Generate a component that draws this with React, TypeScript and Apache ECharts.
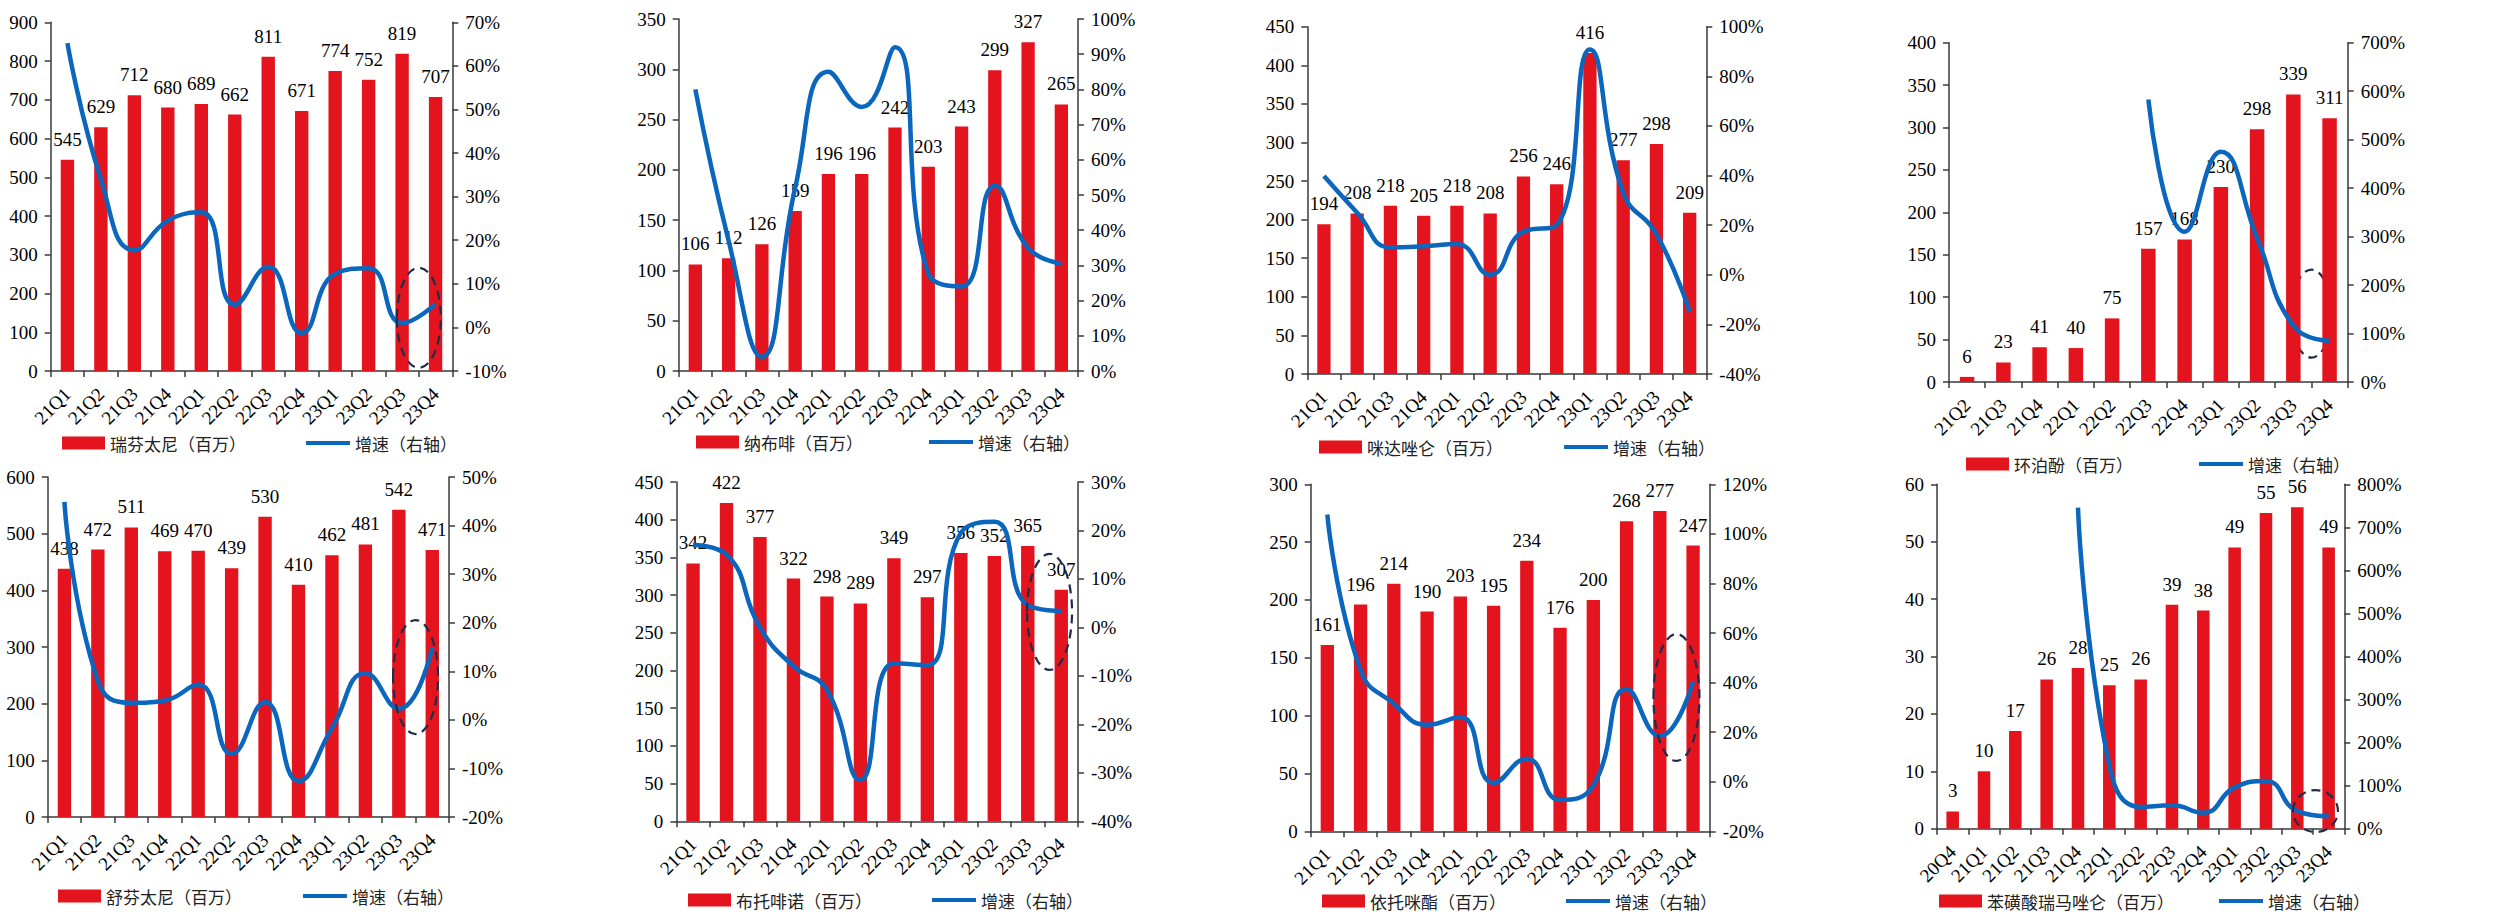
import React, { useEffect, useRef } from "react";
import * as echarts from "echarts";

// ---- quarter labels ----
const Q21Q1_23Q4 = ["21Q1", "21Q2", "21Q3", "21Q4", "22Q1", "22Q2", "22Q3", "22Q4", "23Q1", "23Q2", "23Q3", "23Q4"];
const Q21Q2_23Q4 = ["21Q2", "21Q3", "21Q4", "22Q1", "22Q2", "22Q3", "22Q4", "23Q1", "23Q2", "23Q3", "23Q4"];
const Q20Q4_23Q4 = ["20Q4", "21Q1", "21Q2", "21Q3", "21Q4", "22Q1", "22Q2", "22Q3", "22Q4", "23Q1", "23Q2", "23Q3", "23Q4"];

const GROWTH_NAME = "增速（右轴）";

// ---- 瑞芬太尼 ----
const remifentanilName = "瑞芬太尼（百万）";
const remifentanilSales = [545, 629, 712, 680, 689, 662, 811, 671, 774, 752, 819, 707];
const remifentanilGrowth = [65.2, 34, 17.7, 24.5, 26.4, 5.2, 13.9, -1.3, 12.3, 13.6, 1.0, 5.4];

// ---- 纳布啡 ----
const nalbuphineName = "纳布啡（百万）";
const nalbuphineSales = [106, 112, 126, 159, 196, 196, 242, 203, 243, 299, 327, 265];
const nalbuphineGrowth = [80, 37, 4, 52, 85, 75, 92, 27.7, 24, 52.6, 35, 30.5];

// ---- 咪达唑仑 ----
const midazolamName = "咪达唑仑（百万）";
const midazolamSales = [194, 208, 218, 205, 218, 208, 256, 246, 416, 277, 298, 209];
const midazolamGrowth = [39.8, 25, 11, 11.5, 12.4, 0, 17.4, 20, 90.8, 33.2, 16.4, -15];

// ---- 环泊酚 ----
const ciprofolName = "环泊酚（百万）";
const ciprofolSales = [6, 23, 41, 40, 75, 157, 168, 230, 298, 339, 311];
const ciprofolGrowth = [null, null, null, null, null, 583, 310, 475, 297, 116, 85];

// ---- 舒芬太尼 ----
const sufentanilName = "舒芬太尼（百万）";
const sufentanilSales = [438, 472, 511, 469, 470, 439, 530, 410, 462, 481, 542, 471];
const sufentanilGrowth = [44.9, 8, 3.5, 4, 7.3, -7.0, 3.7, -12.6, -1.7, 9.6, 2.3, 14.9];

// ---- 布托啡诺 ----
const butorphanolName = "布托啡诺（百万）";
const butorphanolSales = [342, 422, 377, 322, 298, 289, 349, 297, 356, 352, 365, 307];
const butorphanolGrowth = [17, 15, 0, -8, -12.9, -31.5, -7.4, -7.8, 19.5, 21.8, 4.6, 3.4];

// ---- 依托咪酯 ----
const etomidateName = "依托咪酯（百万）";
const etomidateSales = [161, 196, 214, 190, 203, 195, 234, 176, 200, 268, 277, 247];
const etomidateGrowth = [107.8, 45, 31.5, 23, 26.1, -0.5, 9.3, -7.4, -1.5, 37.4, 18.4, 40.3];

// ---- 苯磺酸瑞马唑仑 ----
const remimazolamName = "苯磺酸瑞马唑仑（百万）";
const remimazolamSales = [3, 10, 17, 26, 28, 25, 26, 39, 38, 49, 55, 56, 49];
const remimazolamGrowth = [null, null, null, null, 746, 147, 50.6, 54.5, 37, 96, 111, 41, 29];

// ---- left / right axis scales: [min, max, step] ----
const leftScales = [
  [0, 900, 100], [0, 350, 50], [0, 450, 50], [0, 400, 50],
  [0, 600, 100], [0, 450, 50], [0, 300, 50], [0, 60, 10],
];
const rightScales = [
  [-10, 70, 10], [0, 100, 10], [-40, 100, 20], [0, 700, 100],
  [-20, 50, 10], [-40, 30, 10], [-20, 120, 20], [0, 800, 100],
];

const RED = "#E3141D";
const BLUE = "#0B66BE";
const AXIS = "#3a3a3a";
const SERIF = '"Times New Roman", "Liberation Serif", serif';
const CJK = '"Noto Sans CJK SC", "Noto Sans", sans-serif';

type Panel = {
  name: string;
  cats: string[];
  sales: number[];
  growth: (number | null)[];
  grid: [number, number, number, number]; // left, top, width, height
  legend: [number, number, number]; // bar item left, line item left, centre y
  ring?: { slot: number; value: number; rx: number; ry: number; behind?: boolean };
};

const panels: Panel[] = [
  { name: remifentanilName, cats: Q21Q1_23Q4, sales: remifentanilSales, growth: remifentanilGrowth,
    grid: [50.7, 22.3, 401.6, 348.7], legend: [62, 306, 443],
    ring: { slot: 11.0, value: 2.2, rx: 22, ry: 50 } },
  { name: nalbuphineName, cats: Q21Q1_23Q4, sales: nalbuphineSales, growth: nalbuphineGrowth,
    grid: [678.7, 19, 399.3, 352], legend: [696, 929, 442] },
  { name: midazolamName, cats: Q21Q1_23Q4, sales: midazolamSales, growth: midazolamGrowth,
    grid: [1307.3, 26.7, 399, 347.3], legend: [1319, 1564, 447] },
  { name: ciprofolName, cats: Q21Q2_23Q4, sales: ciprofolSales, growth: ciprofolGrowth,
    grid: [1949, 42.7, 398.7, 339.3], legend: [1966, 2199, 464],
    ring: { slot: 10.0, value: 141, rx: 20, ry: 44, behind: true } },
  { name: sufentanilName, cats: Q21Q1_23Q4, sales: sufentanilSales, growth: sufentanilGrowth,
    grid: [47.7, 477, 401.3, 340], legend: [58, 303, 896],
    ring: { slot: 11.0, value: 8.8, rx: 22.5, ry: 57 } },
  { name: butorphanolName, cats: Q21Q1_23Q4, sales: butorphanolSales, growth: butorphanolGrowth,
    grid: [676.3, 482, 401.7, 339.3], legend: [688, 932, 900],
    ring: { slot: 11.15, value: 3.2, rx: 22.5, ry: 58 } },
  { name: etomidateName, cats: Q21Q1_23Q4, sales: etomidateSales, growth: etomidateGrowth,
    grid: [1310.7, 484.3, 399, 347], legend: [1322, 1566, 901],
    ring: { slot: 11.0, value: 34, rx: 23, ry: 63.5 } },
  { name: remimazolamName, cats: Q20Q4_23Q4, sales: remimazolamSales, growth: remimazolamGrowth,
    grid: [1937, 484.3, 407.3, 344.4], legend: [1939, 2219, 901],
    ring: { slot: 12.08, value: 41, rx: 22.5, ry: 21 } },
];

function buildOption() {
  const grid: any[] = [];
  const xAxis: any[] = [];
  const yAxis: any[] = [];
  const series: any[] = [];
  const legend: any[] = [];

  const axisLine = { show: true, lineStyle: { color: AXIS, width: 1.5 } };
  const axisTick = { show: true, length: 6, lineStyle: { color: AXIS, width: 1.5 } };
  const numLabel = { fontFamily: SERIF, fontSize: 19, color: "#000" };

  panels.forEach((p, i) => {
    const [l, t, w, h] = p.grid;
    grid.push({ left: l, top: t, width: w, height: h, containLabel: false });
    xAxis.push({
      type: "category",
      gridIndex: i,
      data: p.cats,
      boundaryGap: true,
      axisLine,
      axisTick: { ...axisTick, alignWithLabel: false, interval: 0 },
      axisLabel: { ...numLabel, rotate: 45, interval: 0, margin: 20 },
      splitLine: { show: false },
    });
    const [lmin, lmax, lstep] = leftScales[i];
    const [rmin, rmax, rstep] = rightScales[i];
    yAxis.push({
      type: "value",
      gridIndex: i,
      position: "left",
      min: lmin,
      max: lmax,
      interval: lstep,
      axisLine,
      axisTick,
      axisLabel: { ...numLabel, margin: 13 },
      splitLine: { show: false },
    });
    yAxis.push({
      type: "value",
      gridIndex: i,
      position: "right",
      min: rmin,
      max: rmax,
      interval: rstep,
      axisLine,
      axisTick,
      axisLabel: { ...numLabel, margin: 13, formatter: "{value}%" },
      splitLine: { show: false },
    });
    series.push({
      type: "bar",
      name: p.name,
      xAxisIndex: i,
      yAxisIndex: 2 * i,
      data: p.sales,
      barWidth: "40%",
      itemStyle: { color: RED },
      label: {
        show: true,
        position: "top",
        distance: 11,
        fontFamily: SERIF,
        fontSize: 19,
        color: "#000",
      },
      z: 2,
    });
    series.push({
      type: "line",
      name: GROWTH_NAME,
      xAxisIndex: i,
      yAxisIndex: 2 * i + 1,
      data: p.growth,
      smooth: 0.5,
      symbol: "none",
      lineStyle: { color: BLUE, width: 4.5 },
      itemStyle: { color: BLUE },
      z: 4,
    });
    const [barLeft, lineLeft, cy] = p.legend;
    const text = { fontFamily: CJK, fontSize: 17, color: "#222", lineHeight: 20 };
    legend.push({
      data: [p.name],
      left: barLeft,
      top: cy - 10,
      padding: 0,
      icon: "rect",
      itemWidth: 43,
      itemHeight: 13,
      textStyle: text,
      selectedMode: false,
    });
    legend.push({
      data: [GROWTH_NAME],
      left: lineLeft,
      top: cy - 10,
      padding: 0,
      icon: "rect",
      itemWidth: 44,
      itemHeight: 4,
      textStyle: text,
      selectedMode: false,
    });
  });

  return {
    animation: false,
    backgroundColor: "#fff",
    grid,
    xAxis,
    yAxis,
    series,
    legend,
  };
}

export default function App() {
  const ref = useRef<HTMLDivElement>(null);

  useEffect(() => {
    if (!ref.current) return;
    const chart = echarts.init(ref.current, null, { renderer: "svg" });
    chart.setOption(buildOption());

    // dashed highlight rings around the latest quarters
    const rings: any[] = [];
    panels.forEach((p, i) => {
      if (!p.ring) return;
      const x0 = chart.convertToPixel({ xAxisIndex: i }, p.cats[0]) as number;
      const x1 = chart.convertToPixel({ xAxisIndex: i }, p.cats[1]) as number;
      const step = x1 - x0;
      const cx = x0 + (p.ring.slot - 0.5) * step;
      const cy = chart.convertToPixel({ yAxisIndex: 2 * i + 1 }, p.ring.value) as number;
      rings.push({
        type: "ellipse",
        silent: true,
        z: p.ring.behind ? 1 : 10,
        shape: { cx, cy, rx: p.ring.rx, ry: p.ring.ry },
        style: { fill: "none", stroke: "#1F2D4A", lineWidth: 2.2, lineDash: [9, 6] },
      });
    });
    chart.setOption({ graphic: rings });

    return () => chart.dispose();
  }, []);

  return (
    <div
      ref={ref}
      style={{ position: "absolute", left: 0, top: 0, width: 2509, height: 914, background: "#fff" }}
    />
  );
}
